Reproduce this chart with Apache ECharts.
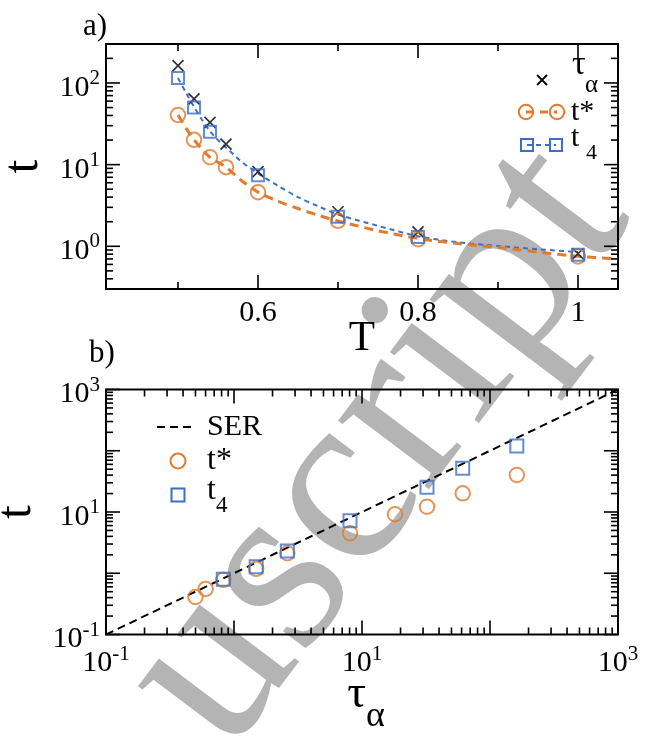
<!DOCTYPE html>
<html><head><meta charset="utf-8">
<script src="https://cdn.jsdelivr.net/npm/echarts@6/dist/echarts.min.js"></script>
<style>html,body{margin:0;padding:0;background:#fff}#c{width:655px;height:736px}</style>
</head><body><div id="c"></div>
<script>
// ---------- Panel a) : t vs T ----------
const T_tau = [0.5, 0.52, 0.54, 0.56, 0.6, 0.7, 0.8, 1.0];
const tauAlpha = [163, 64, 33, 17.8, 8.2, 2.65, 1.5, 0.81];
const T_tstar = [0.5, 0.52, 0.54, 0.56, 0.6, 0.7, 0.8, 1.0];
const tStar = [40.5, 20.1, 12.3, 9.3, 4.6, 2.05, 1.22, 0.75];
const T_t4 = [0.5, 0.52, 0.54, 0.6, 0.7, 0.8, 1.0];
const t4 = [115, 50, 25.2, 7.4, 2.3, 1.3, 0.79];
// dashed fit curves
const fitT4_T = [0.5, 0.51, 0.52, 0.53, 0.54, 0.55, 0.56, 0.57, 0.58, 0.59, 0.6, 0.625, 0.65, 0.675, 0.7, 0.75, 0.8, 0.85, 0.9, 0.95, 1.0];
const fitT4 = [115, 76, 51, 35.5, 25.7, 20, 16.2, 13.2, 10.7, 9.1, 7.8, 5.5, 4.0, 3.1, 2.45, 1.78, 1.33, 1.12, 1.01, 0.92, 0.85];
const fitTs_T = [0.5, 0.51, 0.52, 0.53, 0.54, 0.55, 0.56, 0.58, 0.6, 0.625, 0.65, 0.675, 0.7, 0.75, 0.8, 0.85, 0.9, 0.95, 1.0, 1.05];
const fitTs = [40.5, 28, 20.1, 15.5, 12.3, 10.7, 9.3, 6.3, 4.6, 3.55, 2.9, 2.4, 2.04, 1.55, 1.25, 1.08, 0.97, 0.85, 0.755, 0.70];
const xLabelsA = [0.6, 0.8, 1.0];
const xMajorA = [0.6, 0.8, 1.0];
const xMinorA = [0.5, 0.7, 0.9];
const yLabelsA = [1, 10, 100];

// ---------- Panel b) : t vs tau_alpha ----------
const tauB_star = [0.50, 0.60, 0.825, 1.49, 2.61, 8.06, 18.1, 32.2, 61.2, 162];
const tStarB = [0.41, 0.555, 0.78, 1.18, 2.12, 4.5, 9.2, 12.2, 20.2, 40.2];
const tauB_t4 = [0.825, 1.49, 2.61, 8.06, 32.2, 61.2, 162];
const t4B = [0.80, 1.28, 2.31, 7.2, 25.3, 51.6, 119];
const serX = [0.1, 1000];
const serY = [0.1, 1000];
const labelsB = [0.1, 10, 1000];

const ORANGE = '#e07b30', BLUE = '#3f6fc0', FONT = 'Liberation Serif';
const zip = (a, b) => a.map((v, i) => [v, b[i]]);

function logTicks(min, max) {
  const major = [], minor = [];
  for (let p = -2; p <= 4; p++) {
    for (let k = 1; k <= 9; k++) {
      const v = +(k * Math.pow(10, p)).toPrecision(6);
      if (v < min * 0.9999 || v > max * 1.0001) continue;
      (k === 1 ? major : minor).push(v);
    }
  }
  return { major, minor };
}

function tickData(xMaj, xMin, yMaj, yMin, x0, y0) {
  const d = [];
  xMaj.forEach(v => d.push([v, y0, 14]));
  xMin.forEach(v => d.push([v, y0, 7]));
  yMaj.forEach(v => d.push([x0, v, -14]));
  yMin.forEach(v => d.push([x0, v, -7]));
  return d;
}

function renderTick(params, api) {
  const cs = params.coordSys;
  const p = api.coord([api.value(0), api.value(1)]);
  const L = api.value(2);
  const st = { stroke: '#000', lineWidth: 1.6 };
  const b = cs.y + cs.height, r = cs.x + cs.width;
  if (L > 0) {
    return { type: 'group', children: [
      { type: 'line', shape: { x1: p[0], y1: b, x2: p[0], y2: b - L }, style: st },
      { type: 'line', shape: { x1: p[0], y1: cs.y, x2: p[0], y2: cs.y + L }, style: st }
    ] };
  }
  const l = -L;
  return { type: 'group', children: [
    { type: 'line', shape: { x1: cs.x, y1: p[1], x2: cs.x + l, y2: p[1] }, style: st },
    { type: 'line', shape: { x1: r, y1: p[1], x2: r - l, y2: p[1] }, style: st }
  ] };
}

const richPow = {
  b: { fontFamily: FONT, fontSize: 30, lineHeight: 30, padding: [10, 0, 0, 0], color: '#000' },
  s: { fontFamily: FONT, fontSize: 21, lineHeight: 21, verticalAlign: 'top', color: '#000' }
};
const powFmt = v => '{b|10}{s|' + Math.round(Math.log10(v)) + '}';
const powLabel = (extra) => Object.assign({ formatter: powFmt, rich: richPow, fontFamily: FONT, fontSize: 30, color: '#000' }, extra);

const yTA = logTicks(0.3, 300);
const xTB = logTicks(0.1, 1000);
const yTB = logTicks(0.1, 1000);

const chart = echarts.init(document.getElementById('c'), null, { renderer: 'canvas' });
const crossPath = 'path://M0,0L10,10M10,0L0,10';

chart.setOption({
  animation: false,
  backgroundColor: '#fff',
  title: [
    { text: 'a)', left: 78, top: 6, textStyle: { fontFamily: FONT, fontSize: 31, fontWeight: 'normal', color: '#000' } },
    { text: 'b)', left: 84, top: 333, textStyle: { fontFamily: FONT, fontSize: 31, fontWeight: 'normal', color: '#000' } }
  ],
  grid: [
    { left: 106, top: 44, width: 512, height: 245, show: true, borderColor: '#000', borderWidth: 2, containLabel: false, outerBoundsMode: 'none' },
    { left: 106, top: 389.5, width: 512, height: 245, show: true, borderColor: '#000', borderWidth: 2, containLabel: false, outerBoundsMode: 'none' }
  ],
  xAxis: [
    { gridIndex: 0, type: 'value', min: 0.41, max: 1.05,
      axisLine: { show: false }, axisTick: { show: false }, splitLine: { show: false },
      axisLabel: { customValues: xLabelsA, margin: 9, fontFamily: FONT, fontSize: 30, color: '#000',
        formatter: v => (Math.abs(v - 1) < 1e-9 ? '1' : v.toFixed(1)) },
      name: 'T', nameLocation: 'middle', nameGap: 28, nameMoveOverlap: false,
      nameTextStyle: { fontFamily: FONT, fontSize: 43, color: '#000' } },
    { gridIndex: 1, type: 'log', logBase: 10, min: 0.1, max: 1000,
      axisLine: { show: false }, axisTick: { show: false }, splitLine: { show: false },
      axisLabel: powLabel({ customValues: labelsB, margin: 9 }),
      name: '{a|τ}{b|α}', nameLocation: 'middle', nameGap: 37, nameMoveOverlap: false,
      nameTextStyle: { padding: [0, 0, 0, 8], rich: {
        a: { fontFamily: FONT, fontSize: 47, lineHeight: 47, verticalAlign: 'top', color: '#000' },
        b: { fontFamily: FONT, fontSize: 36, lineHeight: 36, padding: [27, 0, 0, 0], verticalAlign: 'top', color: '#000' } } } }
  ],
  yAxis: [
    { gridIndex: 0, type: 'log', logBase: 10, min: 0.3, max: 300,
      axisLine: { show: false }, axisTick: { show: false }, splitLine: { show: false },
      axisLabel: powLabel({ customValues: yLabelsA, margin: 6 }),
      name: 't', nameLocation: 'middle', nameGap: 45,
      nameTextStyle: { fontFamily: FONT, fontSize: 50, color: '#000' } },
    { gridIndex: 1, type: 'log', logBase: 10, min: 0.1, max: 1000,
      axisLine: { show: false }, axisTick: { show: false }, splitLine: { show: false },
      axisLabel: powLabel({ customValues: labelsB, margin: 6 }),
      name: 't', nameLocation: 'middle', nameGap: 45,
      nameTextStyle: { fontFamily: FONT, fontSize: 50, color: '#000' } }
  ],
  graphic: { elements: [
    // watermark
    { type: 'text', x: 175, y: 718, rotation: 0.925, z: -10, silent: true,
      style: { text: 'uscript', font: '248px "Liberation Serif"', fill: '#b4b4b4', align: 'left', verticalAlign: 'middle' } },
    // legend a
    { type: 'group', z: 100, children: [
      { type: 'line', shape: { x1: 537, y1: 75, x2: 547, y2: 85 }, style: { stroke: '#000', lineWidth: 1.8 } },
      { type: 'line', shape: { x1: 547, y1: 75, x2: 537, y2: 85 }, style: { stroke: '#000', lineWidth: 1.8 } },
      { type: 'text', x: 572, y: 65, style: { text: 'τ', font: '34px "Liberation Serif"', fill: '#000', verticalAlign: 'middle' } },
      { type: 'text', x: 585, y: 85, style: { text: 'α', font: '25px "Liberation Serif"', fill: '#000', verticalAlign: 'middle' } },
      { type: 'line', shape: { x1: 526, y1: 112, x2: 557, y2: 112 }, style: { stroke: ORANGE, lineWidth: 3, lineDash: [8, 6] } },
      { type: 'circle', shape: { cx: 526, cy: 112, r: 7.2 }, style: { fill: 'none', stroke: ORANGE, lineWidth: 2 } },
      { type: 'circle', shape: { cx: 557, cy: 112, r: 7.2 }, style: { fill: 'none', stroke: ORANGE, lineWidth: 2 } },
      { type: 'text', x: 571, y: 112, style: { text: 't*', font: '30px "Liberation Serif"', fill: '#000', verticalAlign: 'middle' } },
      { type: 'line', shape: { x1: 527, y1: 145, x2: 556, y2: 145 }, style: { stroke: BLUE, lineWidth: 2, lineDash: [5, 4] } },
      { type: 'rect', shape: { x: 521, y: 139, width: 12, height: 12 }, style: { fill: 'none', stroke: BLUE, lineWidth: 2 } },
      { type: 'rect', shape: { x: 550, y: 139, width: 12, height: 12 }, style: { fill: 'none', stroke: BLUE, lineWidth: 2 } },
      { type: 'text', x: 571, y: 138, style: { text: 't', font: '30px "Liberation Serif"', fill: '#000', verticalAlign: 'middle' } },
      { type: 'text', x: 586, y: 153, style: { text: '4', font: '22px "Liberation Serif"', fill: '#000', verticalAlign: 'middle' } }
    ] },
    // legend b
    { type: 'group', z: 100, children: [
      { type: 'line', shape: { x1: 157, y1: 427, x2: 192, y2: 427 }, style: { stroke: '#000', lineWidth: 2, lineDash: [8, 5] } },
      { type: 'text', x: 207, y: 427, style: { text: 'SER', font: '30px "Liberation Serif"', fill: '#000', verticalAlign: 'middle' } },
      { type: 'circle', shape: { cx: 178, cy: 461, r: 7.5 }, style: { fill: 'none', stroke: ORANGE, lineWidth: 2 } },
      { type: 'text', x: 207, y: 461, style: { text: 't*', font: '32px "Liberation Serif"', fill: '#000', verticalAlign: 'middle' } },
      { type: 'rect', shape: { x: 171.5, y: 488.5, width: 13, height: 13 }, style: { fill: 'none', stroke: BLUE, lineWidth: 2 } },
      { type: 'text', x: 207, y: 491, style: { text: 't', font: '32px "Liberation Serif"', fill: '#000', verticalAlign: 'middle' } },
      { type: 'text', x: 216, y: 506, style: { text: '4', font: '23px "Liberation Serif"', fill: '#000', verticalAlign: 'middle' } }
    ] }
  ] },
  series: [
    { type: 'custom', xAxisIndex: 0, yAxisIndex: 0, silent: true, clip: false, z: 5,
      dimensions: ['x', 'y', 'len'], encode: { x: 0, y: 1 },
      data: tickData(xMajorA, xMinorA, yTA.major, yTA.minor, 0.41, 0.3), renderItem: renderTick },
    { type: 'custom', xAxisIndex: 1, yAxisIndex: 1, silent: true, clip: false, z: 5,
      dimensions: ['x', 'y', 'len'], encode: { x: 0, y: 1 },
      data: tickData(xTB.major, xTB.minor, yTB.major, yTB.minor, 0.1, 0.1), renderItem: renderTick },
    // panel a
    { name: 't4 fit', type: 'line', xAxisIndex: 0, yAxisIndex: 0, data: zip(fitT4_T, fitT4), smooth: 0.3,
      symbol: 'none', lineStyle: { color: BLUE, width: 2, type: [5, 4] }, z: 3 },
    { name: 't* fit', type: 'line', xAxisIndex: 0, yAxisIndex: 0, data: zip(fitTs_T, fitTs), smooth: 0.3,
      symbol: 'none', lineStyle: { color: ORANGE, width: 3, type: [9, 6] }, z: 3 },
    { name: 'τα', type: 'scatter', xAxisIndex: 0, yAxisIndex: 0, data: zip(T_tau, tauAlpha),
      symbol: crossPath, symbolSize: 11, itemStyle: { color: 'rgba(0,0,0,0)', borderColor: '#000', borderWidth: 1.7 }, z: 4 },
    { name: 't*', type: 'scatter', xAxisIndex: 0, yAxisIndex: 0, data: zip(T_tstar, tStar),
      symbol: 'circle', symbolSize: 14.5, itemStyle: { color: 'rgba(0,0,0,0)', borderColor: ORANGE, borderWidth: 2 }, z: 4 },
    { name: 't4', type: 'scatter', xAxisIndex: 0, yAxisIndex: 0, data: zip(T_t4, t4),
      symbol: 'rect', symbolSize: 12, itemStyle: { color: 'rgba(0,0,0,0)', borderColor: BLUE, borderWidth: 2 }, z: 4 },
    // panel b
    { name: 'SER', type: 'line', xAxisIndex: 1, yAxisIndex: 1, data: zip(serX, serY),
      symbol: 'none', lineStyle: { color: '#000', width: 2, type: [8, 5] }, z: 3 },
    { name: 't* (b)', type: 'scatter', xAxisIndex: 1, yAxisIndex: 1, data: zip(tauB_star, tStarB),
      symbol: 'circle', symbolSize: 14.5, itemStyle: { color: 'rgba(0,0,0,0)', borderColor: ORANGE, borderWidth: 2 }, z: 4 },
    { name: 't4 (b)', type: 'scatter', xAxisIndex: 1, yAxisIndex: 1, data: zip(tauB_t4, t4B),
      symbol: 'rect', symbolSize: 13, itemStyle: { color: 'rgba(0,0,0,0)', borderColor: BLUE, borderWidth: 2 }, z: 4 }
  ]
});
</script>
</body></html>
